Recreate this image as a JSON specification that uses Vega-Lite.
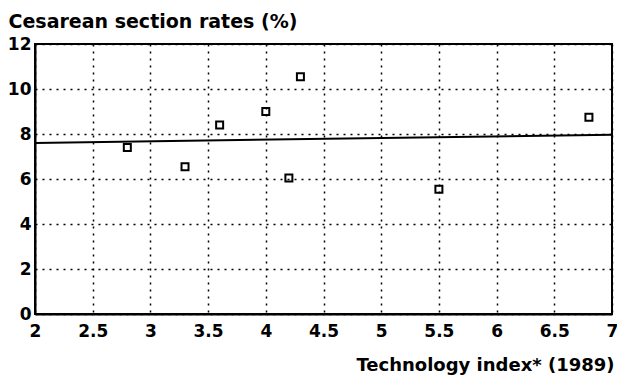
{
  "$schema": "https://vega.github.io/schema/vega-lite/v6.json",
  "autosize": {"type": "none"},
  "padding": {"left": 35, "top": 44, "right": 5, "bottom": 62},
  "width": 577,
  "height": 270,
  "background": "white",
  "config": {
    "view": {"stroke": "black", "strokeWidth": 2},
    "font": "DejaVu Sans"
  },
  "datasets": {
    "points": [
      {"tech": 2.8, "rate": 7.4},
      {"tech": 3.3, "rate": 6.55},
      {"tech": 3.6, "rate": 8.4},
      {"tech": 4.0, "rate": 9.0},
      {"tech": 4.2, "rate": 6.05},
      {"tech": 4.3, "rate": 10.55},
      {"tech": 5.5, "rate": 5.55},
      {"tech": 6.8, "rate": 8.75}
    ],
    "fit": [
      {"tech": 2, "rate": 7.6},
      {"tech": 7, "rate": 7.97}
    ]
  },
  "layer": [
    {
      "data": {"name": "fit"},
      "mark": {"type": "line", "color": "black", "strokeWidth": 2},
      "encoding": {
        "x": {
          "field": "tech", "type": "quantitative",
          "scale": {"domain": [2, 7], "nice": false, "zero": false},
          "axis": {
            "values": [2, 2.5, 3, 3.5, 4, 4.5, 5, 5.5, 6, 6.5, 7],
            "format": "~g",
            "grid": true, "gridColor": "black", "gridDash": [2, 5], "gridWidth": 1.5, "gridOpacity": 1,
            "domainColor": "black", "domainWidth": 2,
            "ticks": false,
            "labelFont": "DejaVu Sans", "labelFontWeight": "bold", "labelFontSize": 17, "labelColor": "black",
            "labelPadding": 9, "labelFlush": false, "labelOverlap": false,
            "title": "Technology index* (1989)",
            "titleFont": "DejaVu Sans", "titleFontWeight": "bold", "titleFontSize": 18, "titleColor": "black",
            "titleAnchor": "end", "titleAlign": "right", "titleBaseline": "alphabetic",
            "titleX": 579, "titleY": 56
          }
        },
        "y": {
          "field": "rate", "type": "quantitative",
          "scale": {"domain": [0, 12], "nice": false},
          "axis": {
            "values": [0, 2, 4, 6, 8, 10, 12],
            "grid": true, "gridColor": "black", "gridDash": [2, 5], "gridWidth": 1.5, "gridOpacity": 1,
            "domainColor": "black", "domainWidth": 2,
            "ticks": false,
            "labelFont": "DejaVu Sans", "labelFontWeight": "bold", "labelFontSize": 17, "labelColor": "black",
            "labelPadding": 4, "labelFlush": false, "labelOverlap": false,
            "title": "Cesarean section rates (%)",
            "titleFont": "DejaVu Sans", "titleFontWeight": "bold", "titleFontSize": 19, "titleColor": "black",
            "titleAngle": 0, "titleAlign": "left", "titleBaseline": "alphabetic",
            "titleX": -27, "titleY": -17
          }
        }
      }
    },
    {
      "data": {"name": "points"},
      "mark": {"type": "point", "shape": "square", "filled": false, "color": "black", "strokeWidth": 2, "size": 49, "opacity": 1},
      "encoding": {
        "x": {"field": "tech", "type": "quantitative"},
        "y": {"field": "rate", "type": "quantitative"}
      }
    }
  ]
}
